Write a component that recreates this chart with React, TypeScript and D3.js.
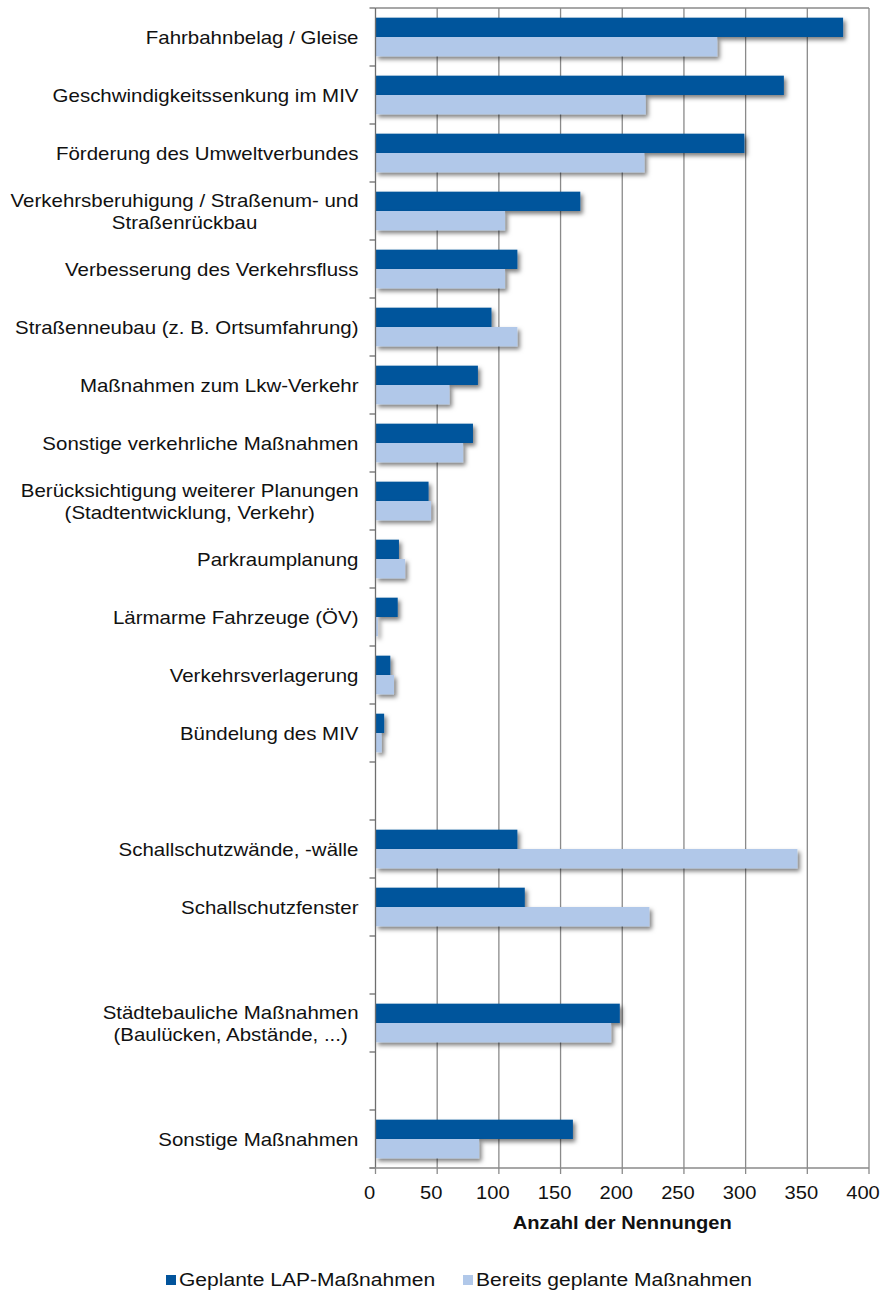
import { useEffect, useRef } from "react";
import * as d3 from "d3";

// "" marks an empty slot between groups
const categories = [
  "Fahrbahnbelag / Gleise",
  "Geschwindigkeitssenkung im MIV",
  "Förderung des Umweltverbundes",
  "Verkehrsberuhigung / Straßenum- und\nStraßenrückbau",
  "Verbesserung des Verkehrsfluss",
  "Straßenneubau (z. B. Ortsumfahrung)",
  "Maßnahmen zum Lkw-Verkehr",
  "Sonstige verkehrliche Maßnahmen",
  "Berücksichtigung weiterer Planungen\n(Stadtentwicklung, Verkehr)",
  "Parkraumplanung",
  "Lärmarme Fahrzeuge (ÖV)",
  "Verkehrsverlagerung",
  "Bündelung des MIV",
  "",
  "Schallschutzwände, -wälle",
  "Schallschutzfenster",
  "",
  "Städtebauliche Maßnahmen\n(Baulücken, Abstände, ...)",
  "",
  "Sonstige Maßnahmen",
];

const geplanteLAP = [379, 331, 299, 166, 115, 94, 83, 79, 43, 19, 18, 12, 7, null, 115, 121, null, 198, null, 160];
const bereitsGeplant = [277, 219, 218, 105, 105, 115, 60, 71, 45, 24, 2, 15, 5, null, 342, 222, null, 191, null, 84];

const seriesNames = ["Geplante LAP-Maßnahmen", "Bereits geplante Maßnahmen"];
const seriesColors = ["#02549c", "#b1c8e9"];
const xTicks = [0, 50, 100, 150, 200, 250, 300, 350, 400];

const FONT = "'Liberation Sans', Arial, sans-serif";
const SX = 1.15; // source picture is stretched horizontally

export default function App() {
  const svgRef = useRef<SVGSVGElement>(null);
  const width = 880;
  const height = 1291;

  useEffect(() => {
    if (!svgRef.current) return;
    const svg = d3.select(svgRef.current);
    svg.selectAll("*").remove();

    const margin = { top: 8, left: 375.5, right: 11, bottom: 123 };
    const x = d3.scaleLinear().domain([0, 400]).range([margin.left, width - margin.right]);
    const y = d3
      .scaleBand<number>()
      .domain(categories.map((_, i) => i))
      .range([margin.top, height - margin.bottom]);
    const ySub = d3
      .scaleBand<number>()
      .domain([0, 1])
      .range([0, y.bandwidth()])
      .paddingOuter(0.5);

    const defs = svg.append("defs");
    const f = defs
      .append("filter")
      .attr("id", "shadow")
      .attr("x", "-5%")
      .attr("y", "-30%")
      .attr("width", "115%")
      .attr("height", "180%");
    f.append("feDropShadow")
      .attr("dx", 2.5)
      .attr("dy", 3)
      .attr("stdDeviation", 2.2)
      .attr("flood-color", "#000")
      .attr("flood-opacity", 0.5);

    const top = margin.top;
    const bottom = height - margin.bottom;

    // gridlines
    svg.append("g")
      .selectAll("line")
      .data(xTicks.slice(1))
      .join("line")
      .attr("x1", (d) => x(d))
      .attr("x2", (d) => x(d))
      .attr("y1", top)
      .attr("y2", bottom)
      .attr("stroke", "#8a8a8a")
      .attr("stroke-width", 1.3);

    // top frame
    svg.append("line")
      .attr("x1", x(0)).attr("x2", x(400))
      .attr("y1", top).attr("y2", top)
      .attr("stroke", "#8a8a8a")
      .attr("stroke-width", 1.3);

    // bars
    const series = [geplanteLAP, bereitsGeplant];
    series.forEach((vals, s) => {
      svg.append("g")
        .attr("filter", "url(#shadow)")
        .selectAll("rect")
        .data(vals.map((v, i) => ({ v, i })).filter((d) => d.v !== null))
        .join("rect")
        .attr("x", x(0))
        .attr("y", (d) => (y(d.i) as number) + (ySub(s) as number))
        .attr("width", (d) => x(d.v as number) - x(0))
        .attr("height", ySub.bandwidth())
        .attr("fill", seriesColors[s]);
    });

    // y axis
    const yAxis = svg.append("g");
    yAxis.append("line")
      .attr("x1", x(0)).attr("x2", x(0))
      .attr("y1", top).attr("y2", bottom)
      .attr("stroke", "#6e6e6e")
      .attr("stroke-width", 1.3);
    yAxis.selectAll("line.tick")
      .data(d3.range(categories.length + 1))
      .join("line")
      .attr("class", "tick")
      .attr("x1", x(0) - 6)
      .attr("x2", x(0))
      .attr("y1", (i) => top + i * y.step())
      .attr("y2", (i) => top + i * y.step())
      .attr("stroke", "#6e6e6e")
      .attr("stroke-width", 1.3);

    // x axis
    const xAxis = svg.append("g");
    xAxis.append("line")
      .attr("x1", x(0) - 6).attr("x2", x(400))
      .attr("y1", bottom).attr("y2", bottom)
      .attr("stroke", "#8a8a8a")
      .attr("stroke-width", 1.3);
    xAxis.selectAll("line.tick")
      .data(xTicks)
      .join("line")
      .attr("class", "tick")
      .attr("x1", (d) => x(d))
      .attr("x2", (d) => x(d))
      .attr("y1", bottom)
      .attr("y2", bottom + 6)
      .attr("stroke", "#8a8a8a")
      .attr("stroke-width", 1.3);

    const addText = (
      parent: d3.Selection<any, any, any, any>,
      tx: number,
      ty: number,
      txt: string,
      anchor: string,
      size: number,
      weight = "normal"
    ) => {
      const g = parent.append("g").attr("transform", `translate(${tx},${ty}) scale(${SX},1)`);
      return g.append("text")
        .attr("text-anchor", anchor)
        .attr("dy", "0.35em")
        .attr("font-family", FONT)
        .attr("font-size", size)
        .attr("font-weight", weight)
        .attr("fill", "#111")
        .text(txt);
    };

    xTicks.forEach((t) => addText(xAxis, x(t) - 6, bottom + 25, String(t), "middle", 17.5));

    addText(svg, (x(0) + x(400)) / 2, bottom + 55, "Anzahl der Nennungen", "middle", 17.5, "bold");

    // category labels
    const labelRight = x(0) - 17;
    const lineH = 22;
    const labelSize = 17.8;
    categories.forEach((c, i) => {
      if (!c) return;
      const cy = (y(i) as number) + y.bandwidth() / 2;
      const lines = c.split("\n");
      if (lines.length === 1) {
        addText(svg, labelRight, cy + 1, c, "end", labelSize);
        return;
      }
      const g = svg.append("g");
      const texts = lines.map((ln, k) =>
        g.append("text")
          .attr("text-anchor", "middle")
          .attr("dy", "0.35em")
          .attr("y", (k - (lines.length - 1) / 2) * lineH)
          .attr("font-family", FONT)
          .attr("font-size", labelSize)
          .attr("fill", "#111")
          .text(ln)
      );
      const w = d3.max(texts, (t) => (t.node() as SVGTextElement).getComputedTextLength()) || 0;
      g.attr("transform", `translate(${labelRight - (w * SX) / 2},${cy + 1}) scale(${SX},1)`);
    });

    // legend
    const legendY = 1280;
    const legendX = [166, 463];
    seriesNames.forEach((name, s) => {
      svg.append("rect")
        .attr("x", legendX[s])
        .attr("y", legendY - 5)
        .attr("width", 10)
        .attr("height", 10)
        .attr("fill", seriesColors[s]);
      addText(svg, legendX[s] + 13, legendY, name, "start", 18.3);
    });
  }, []);

  return (
    <svg
      ref={svgRef}
      width={width}
      height={height}
      style={{ position: "absolute", left: 0, top: 0, background: "#fff" }}
    />
  );
}
